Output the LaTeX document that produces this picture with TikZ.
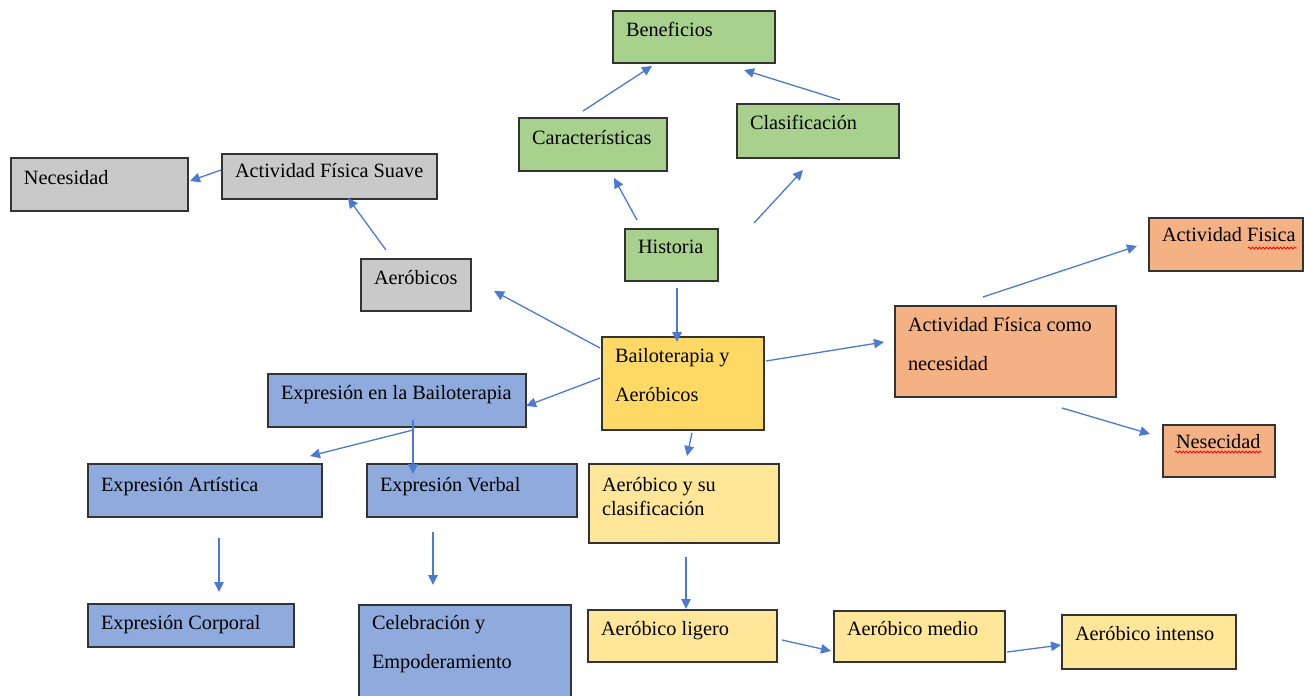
\documentclass[tikz,border=0pt]{standalone}
\usepackage{fontspec}
\setmainfont{Liberation Serif}
\usetikzlibrary{arrows.meta,decorations.pathmorphing}
\definecolor{cgreen}{HTML}{A9D18E}
\definecolor{cgray}{HTML}{C9C9C9}
\definecolor{cgold}{HTML}{FFD966}
\definecolor{corange}{HTML}{F4B183}
\definecolor{cblue}{HTML}{8FAADC}
\definecolor{cyell}{HTML}{FFE699}
\definecolor{cline}{HTML}{333333}
\definecolor{carrow}{HTML}{4A7BD0}
\newcommand{\bxt}[5]{\vbox to #2pt{\hsize=#1pt\fontsize{20.3}{#4}\selectfont\raggedright\leftskip=13pt\parindent=0pt\noindent\rule{0pt}{#3pt}#5\par\vss}}
\tikzset{
  box/.style={draw=cline, line width=1.2pt, inner sep=0pt, outer sep=0pt, anchor=north west},
  arr/.style={draw=carrow, line width=1.3pt, -{Triangle[length=10pt,width=9.5pt]}},
  squig/.style={draw=red, line width=0.8pt, decorate, decoration={snake, amplitude=1pt, segment length=3.5pt}}
}
\begin{document}
\begin{tikzpicture}[x=1pt,y=-1pt]
\useasboundingbox (0,0) rectangle (1304,696);
\fill[white] (0,0) rectangle (1304,696);
% green
\node[box, fill=cgreen] (ben) at (613,11) {\bxt{162}{52}{25}{24}{Beneficios}};
\node[box, fill=cgreen] (car) at (519,118) {\bxt{148}{53}{26}{24}{Características}};
\node[box, fill=cgreen] (cla) at (737,104) {\bxt{162}{54}{25}{24}{Clasificación}};
\node[box, fill=cgreen] (his) at (625,229) {\bxt{93}{52}{24}{24}{Historia}};
% gray
\node[box, fill=cgray] (nec) at (11,158) {\bxt{177}{53}{26}{24}{Necesidad}};
\node[box, fill=cgray] (afs) at (222,154) {\bxt{215}{45}{23}{24}{Actividad Física Suave}};
\node[box, fill=cgray] (aer) at (361,259) {\bxt{110}{52}{25}{24}{Aeróbicos}};
% gold
\node[box, fill=cgold] (bai) at (602,337) {\bxt{162}{93}{25}{39}{Bailoterapia y\\Aeróbicos}};
% orange
\node[box, fill=corange] (afn) at (895,306) {\bxt{221}{91}{25}{39}{Actividad Física como\\necesidad}};
\node[box, fill=corange] (afi) at (1149,218) {\bxt{154}{53}{23}{24}{Actividad Fisica}};
\node[box, fill=corange] (nes) at (1163,425) {\bxt{112}{52}{23}{24}{Nesecidad}};
% blue
\node[box, fill=cblue] (ebl) at (268,374) {\bxt{258}{53}{25}{24}{Expresión en la Bailoterapia}};
\node[box, fill=cblue] (ear) at (88,464) {\bxt{234}{53}{27}{24}{Expresión Artística}};
\node[box, fill=cblue] (eve) at (367,464) {\bxt{210}{53}{27}{24}{Expresión Verbal}};
\node[box, fill=cblue] (eco) at (88,604) {\bxt{206}{43}{25}{24}{Expresión Corporal}};
\node[box, fill=cblue] (cel) at (359,605) {\bxt{212}{100}{24}{39}{Celebración y\\Empoderamiento}};
% light yellow
\node[box, fill=cyell] (acl) at (589,464) {\bxt{190}{79}{27}{24}{Aeróbico y su\\clasificación}};
\node[box, fill=cyell] (ali) at (588,610) {\bxt{189}{52}{25}{24}{Aeróbico ligero}};
\node[box, fill=cyell] (ame) at (834,611) {\bxt{171}{51}{24}{24}{Aeróbico medio}};
\node[box, fill=cyell] (ain) at (1062,615) {\bxt{174}{54}{25}{24}{Aeróbico intenso}};
% spell-check marks
\coordinate (afiA) at (1248,248); \coordinate (afiB) at (1297,248);
\draw[squig] (afiA) -- (afiB);
\coordinate (nesA) at (1175,452); \coordinate (nesB) at (1262,452);
\draw[squig] (nesA) -- (nesB);
% connector end points
\coordinate (car-o) at (583,111); \coordinate (ben-i1) at (652,66);
\coordinate (cla-o) at (840,100); \coordinate (ben-i2) at (744,70);
\coordinate (his-o1) at (637,220); \coordinate (car-i) at (614,178);
\coordinate (his-o2) at (754,223); \coordinate (cla-i) at (803,170);
\coordinate (his-o3) at (677,288); \coordinate (bai-i) at (677,342);
\coordinate (bai-o1) at (600,348); \coordinate (aer-i) at (494,291);
\coordinate (aer-o) at (386,250); \coordinate (afs-i) at (348,198);
\coordinate (afs-o) at (221,170); \coordinate (nec-i) at (190,181);
\coordinate (bai-o2) at (600,378); \coordinate (ebl-i) at (526,406);
\coordinate (bai-o3) at (766,361); \coordinate (afn-i) at (884,342);
\coordinate (afn-o1) at (983,297); \coordinate (afi-i) at (1137,246);
\coordinate (afn-o2) at (1062,408); \coordinate (nes-i) at (1150,434);
\coordinate (bai-o4) at (692,433); \coordinate (acl-i) at (687,456);
\coordinate (acl-o) at (686,557); \coordinate (ali-i) at (686,609);
\coordinate (ali-o) at (782,640); \coordinate (ame-i) at (831,651);
\coordinate (ame-o) at (1007,652); \coordinate (ain-i) at (1061,645);
\coordinate (ebl-o1) at (413,430); \coordinate (ear-i) at (310,456);
\coordinate (ebl-o2) at (413,420); \coordinate (eve-i) at (413,474);
\coordinate (ear-o) at (219,538); \coordinate (eco-i) at (219,592);
\coordinate (eve-o) at (433,532); \coordinate (cel-i) at (433,585);
% connectors
\draw[arr] (car-o) -- (ben-i1);
\draw[arr] (cla-o) -- (ben-i2);
\draw[arr] (his-o1) -- (car-i);
\draw[arr] (his-o2) -- (cla-i);
\draw[arr] (his-o3) -- (bai-i);
\draw[arr] (bai-o1) -- (aer-i);
\draw[arr] (aer-o) -- (afs-i);
\draw[arr] (afs-o) -- (nec-i);
\draw[arr] (bai-o2) -- (ebl-i);
\draw[arr] (bai-o3) -- (afn-i);
\draw[arr] (afn-o1) -- (afi-i);
\draw[arr] (afn-o2) -- (nes-i);
\draw[arr] (bai-o4) -- (acl-i);
\draw[arr] (acl-o) -- (ali-i);
\draw[arr] (ali-o) -- (ame-i);
\draw[arr] (ame-o) -- (ain-i);
\draw[arr] (ebl-o1) -- (ear-i);
\draw[arr] (ebl-o2) -- (eve-i);
\draw[arr] (ear-o) -- (eco-i);
\draw[arr] (eve-o) -- (cel-i);
\end{tikzpicture}
\end{document}
